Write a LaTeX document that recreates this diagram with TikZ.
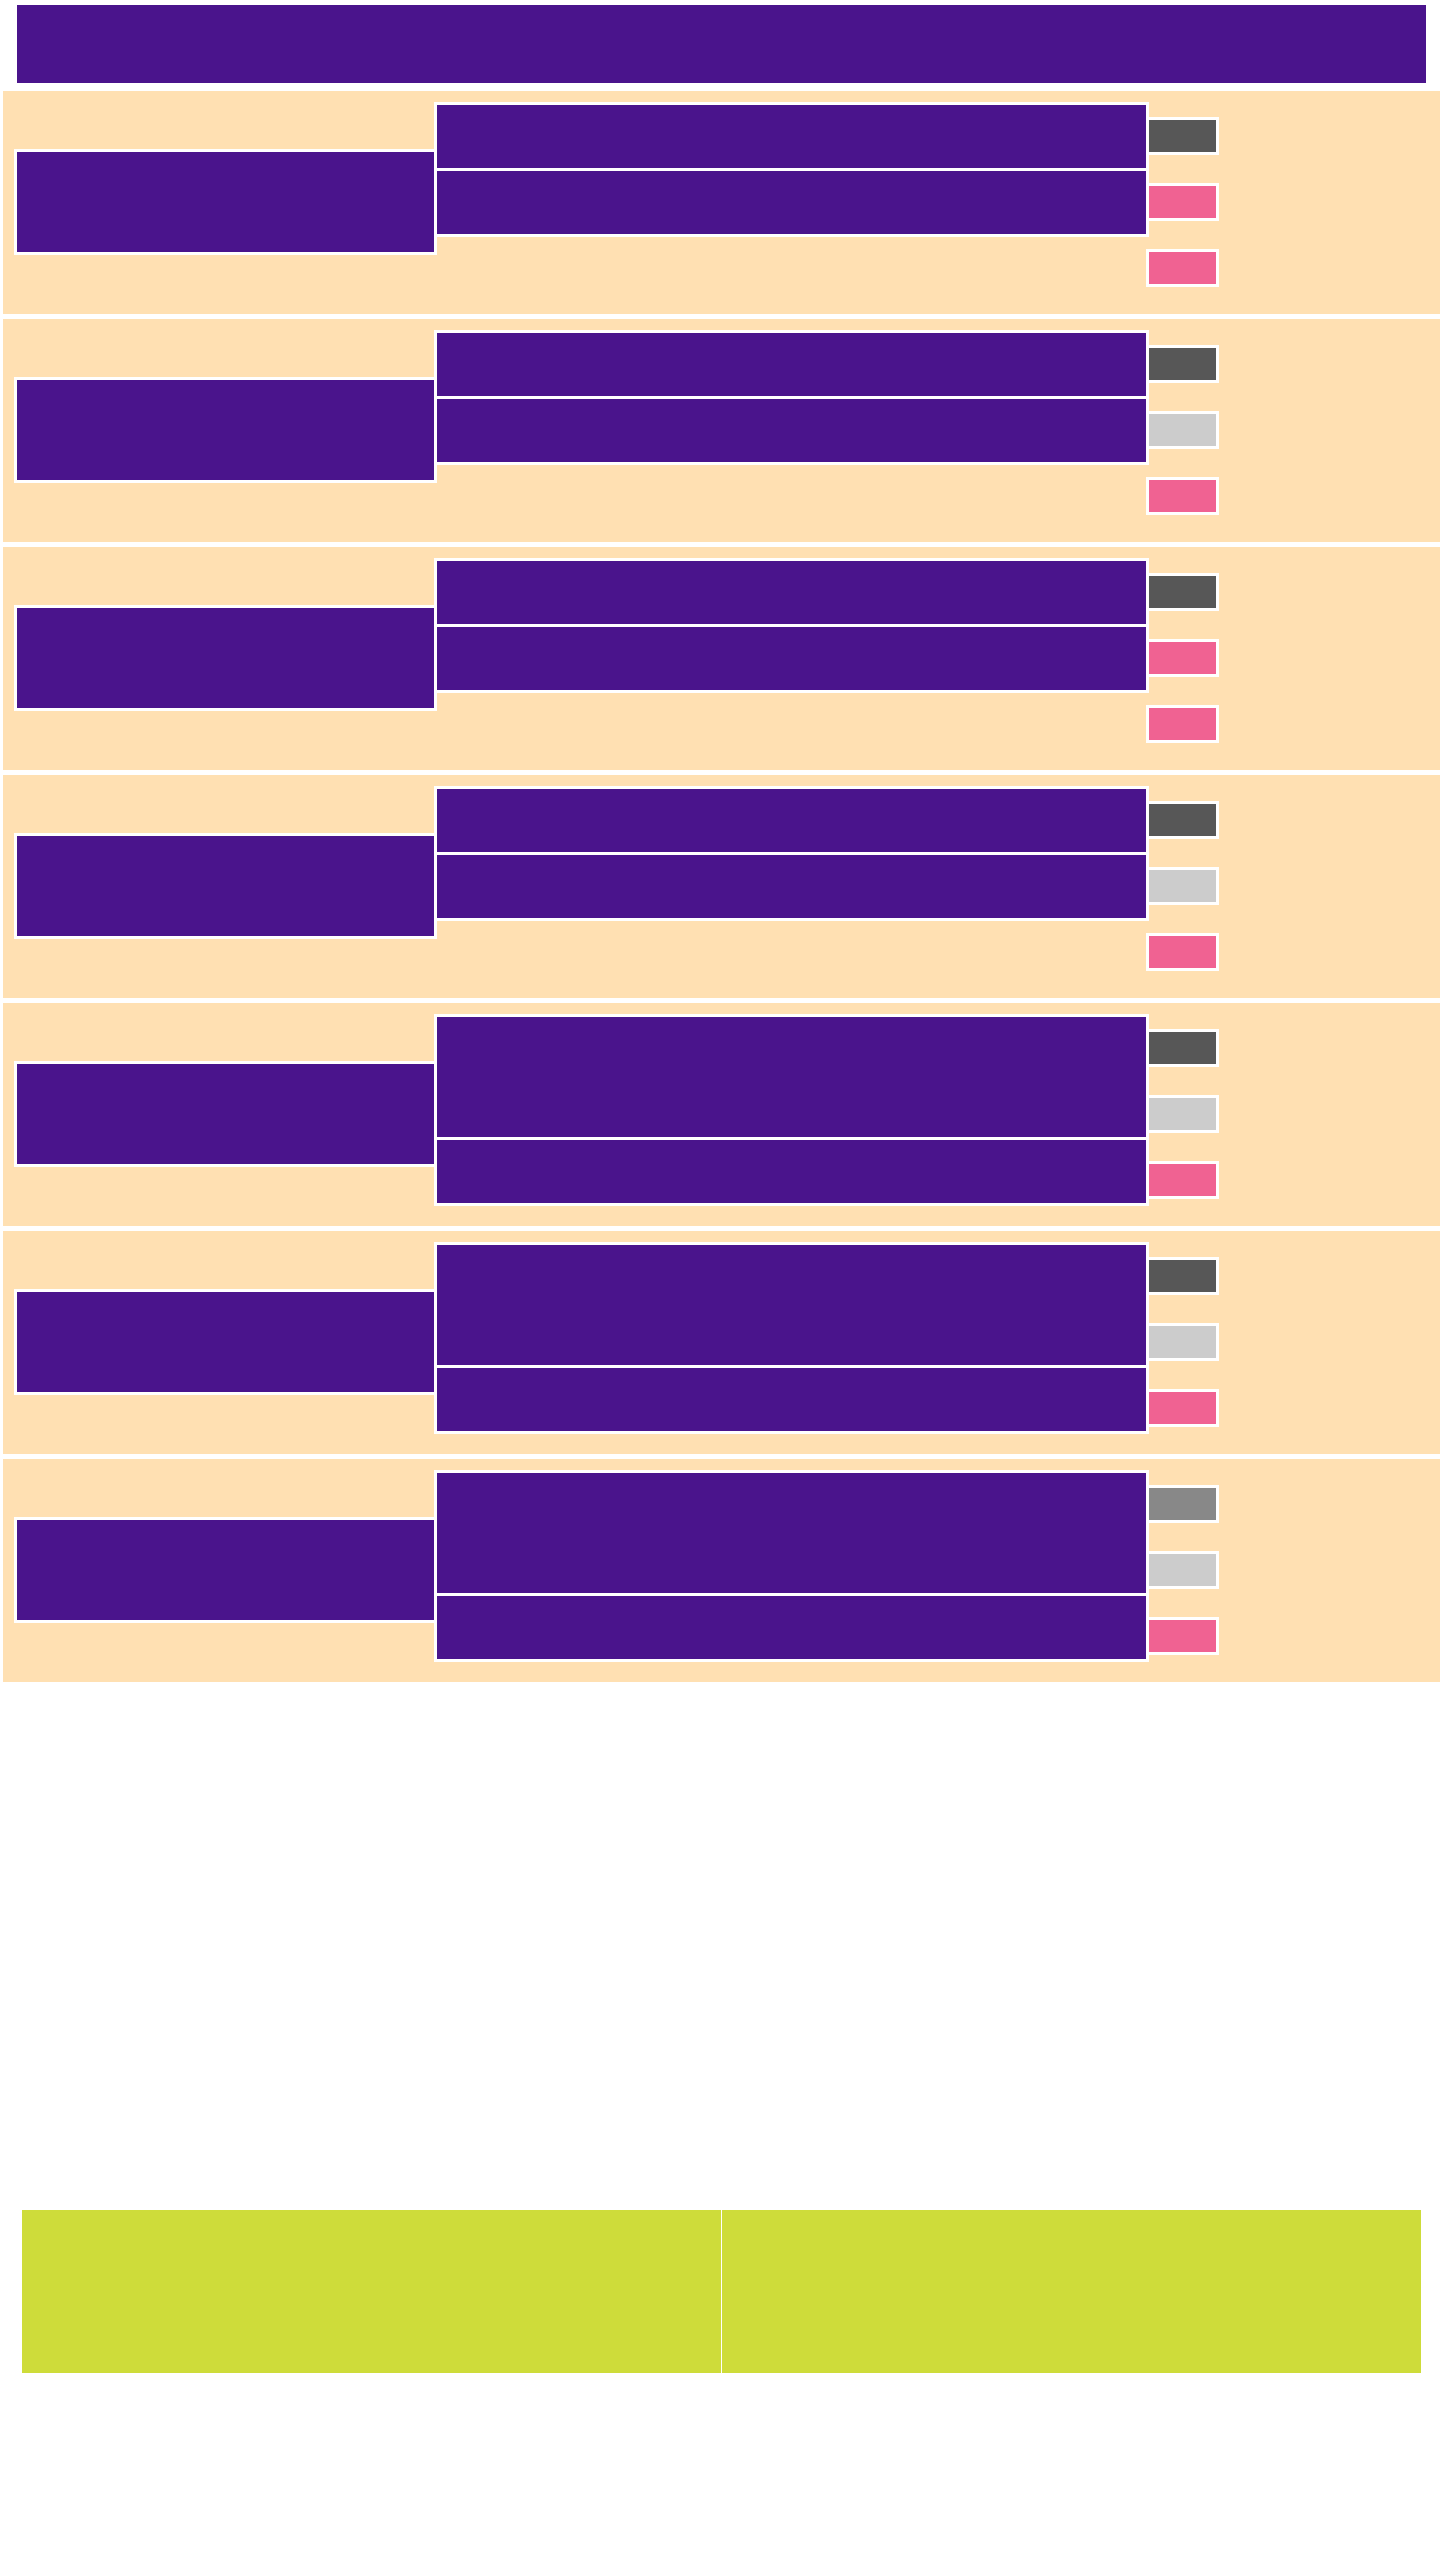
\documentclass[tikz,border=0pt]{standalone}
\usetikzlibrary{positioning}
\definecolor{deeppurple}{HTML}{4A148C}
\definecolor{peach}{HTML}{FFE0B2}
\definecolor{rosepink}{HTML}{F06292}
\definecolor{darkgrey}{HTML}{575757}
\definecolor{midgrey}{HTML}{888888}
\definecolor{lightgrey}{HTML}{CCCCCC}
\definecolor{limegreen}{HTML}{CEDC3A}

\begin{document}
\begin{tikzpicture}[x=1pt, y=-1pt, inner sep=0pt, outer sep=0pt,
    cell/.style={rectangle, draw=white, line width=3pt, fill=deeppurple, minimum width=712pt},
    swatch/.style={rectangle, draw=white, line width=3pt, minimum width=70pt, minimum height=35pt},
    panel/.style={rectangle, draw=white, line width=1.5pt, fill=limegreen, minimum width=700.5pt, minimum height=165pt}]
    \useasboundingbox (0,0) rectangle (1440,2560);
    \node (title) [rectangle, fill=deeppurple, anchor=north west, minimum width=1409pt, minimum height=78pt] at (17,5) {};
    % one band per row: swatch colours, height of first cell
    \foreach \i/\ca/\cb/\cc/\h in {0/darkgrey/rosepink/rosepink/66, 1/darkgrey/lightgrey/rosepink/66,
        2/darkgrey/rosepink/rosepink/66, 3/darkgrey/lightgrey/rosepink/66, 4/darkgrey/lightgrey/rosepink/123,
        5/darkgrey/lightgrey/rosepink/123, 6/midgrey/lightgrey/rosepink/123} {
        \node (band\i) [rectangle, fill=peach, anchor=north west, minimum width=1437pt, minimum height=223pt] at (3,91+228*\i) {};
        \node (cat\i) [cell, anchor=north west, minimum width=420pt, minimum height=103pt] at (15.5,150.5+228*\i) {};
        \node (rowa\i) [cell, anchor=north west, minimum height=\h pt] at (435.5,103.5+228*\i) {};
        \node (rowb\i) [cell, minimum height=66pt, below=0pt of rowa\i] {};
        \node (sqa\i) [swatch, fill=\ca, anchor=north west] at (1147.5,118.5+228*\i) {};
        \node (sqb\i) [swatch, fill=\cb, below=31pt of sqa\i] {};
        \node (sqc\i) [swatch, fill=\cc, below=31pt of sqb\i] {};
    }
    \node (limeleft) [panel, anchor=north west] at (21,2209) {};
    \node (limeright) [panel, right=0pt of limeleft] {};
\end{tikzpicture}
\end{document}
